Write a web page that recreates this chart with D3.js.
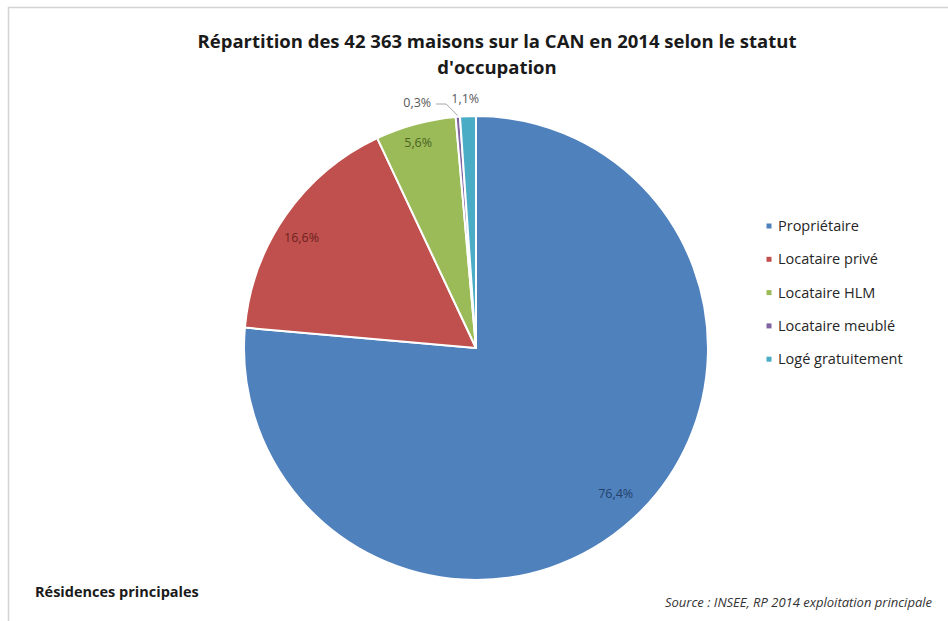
<!DOCTYPE html>
<html lang="fr">
<head>
<meta charset="utf-8">
<script src="https://cdn.jsdelivr.net/npm/d3@7"></script>
<style>
  html, body { margin: 0; padding: 0; background: #fff; }
  svg { display: block; font-family: "Open Sans", "DejaVu Sans", sans-serif; }
</style>
</head>
<body>
<svg id="chart" width="948" height="621"></svg>
<script>
// Statut d'occupation des résidences principales (maisons), CAN 2014
const categories = ["Propriétaire", "Locataire privé", "Locataire HLM", "Locataire meublé", "Logé gratuitement"];
const shares = [76.4, 16.6, 5.6, 0.3, 1.1];
const valueLabels = ["76,4%", "16,6%", "5,6%", "0,3%", "1,1%"];
const titleLines = ["Répartition des 42 363 maisons sur la CAN en 2014 selon le statut", "d'occupation"];

const palette = ["#4f81bd", "#c0504d", "#9bbb59", "#8064a2", "#4bacc6"];
const labelInk = ["#23416b", "#6b2220", "#4b6221", "#595959", "#595959"];

const W = 948, H = 621;
const svg = d3.select("#chart");

// chart frame (top and left edges)
svg.append("path")
  .attr("d", `M8.5,${H} V7.5 H${W}`)
  .attr("fill", "none")
  .attr("stroke", "#d4d4d4")
  .attr("stroke-width", 1.5);

// title
const title = svg.append("text")
  .attr("x", 497).attr("y", 48)
  .attr("text-anchor", "middle")
  .attr("font-size", 18.5)
  .attr("font-weight", 700)
  .attr("fill", "#1a1a1a");
titleLines.forEach((t, i) => title.append("tspan")
  .attr("x", 497).attr("dy", i === 0 ? 0 : 26).text(t));

// pie
const cx = 476, cy = 348, R = 232;
const pie = d3.pie().sort(null).value(d => d)(shares);
const arc = d3.arc().innerRadius(0).outerRadius(R);

const g = svg.append("g").attr("transform", `translate(${cx},${cy})`);
g.selectAll("path.slice")
  .data(pie)
  .join("path")
  .attr("class", "slice")
  .attr("d", arc)
  .attr("fill", (d, i) => palette[i])
  .attr("stroke", "#fff")
  .attr("stroke-width", 2)
  .attr("stroke-linejoin", "round");

// label placement: radius (fraction of R) and angular nudge (degrees)
const labelPlacement = [
  { r: 0.87, nudge: -1.3 },
  { r: 0.89, nudge: -2.6 },
  { r: 0.92, nudge: -0.6 },
  { r: 1.086, nudge: -9.0 },
  { r: 1.078, nudge: -0.5 }
];

const polar = (angle, rad) => [rad * Math.sin(angle), -rad * Math.cos(angle)];

pie.forEach((d, i) => {
  const p = labelPlacement[i];
  const mid = (d.startAngle + d.endAngle) / 2 + p.nudge * Math.PI / 180;
  const [x, y] = polar(mid, p.r * R);
  if (i === 3) {
    // leader line from the label to the thin slice
    const sliceMid = (d.startAngle + d.endAngle) / 2;
    const [ex, ey] = polar(sliceMid, R * 1.005);
    g.append("path")
      .attr("d", `M${x + 19},${y + 1} H${x + 29} L${ex},${ey}`)
      .attr("fill", "none")
      .attr("stroke", "#a6a6a6")
      .attr("stroke-width", 1);
  }
  g.append("text")
    .attr("x", x).attr("y", y)
    .attr("dy", "0.35em")
    .attr("text-anchor", "middle")
    .attr("font-size", 12.5)
    .attr("fill", labelInk[i])
    .text(valueLabels[i]);
});

// legend
const legend = svg.append("g").attr("transform", "translate(769,226)");
const items = legend.selectAll("g")
  .data(categories)
  .join("g")
  .attr("transform", (d, i) => `translate(0,${i * 33.3})`);
items.append("rect")
  .attr("x", -2.5).attr("y", -2.5)
  .attr("width", 5).attr("height", 5)
  .attr("fill", (d, i) => palette[i]);
items.append("text")
  .attr("x", 9).attr("dy", "0.35em")
  .attr("font-size", 14.5)
  .attr("fill", "#262626")
  .text(d => d);

// footer
svg.append("text")
  .attr("x", 35).attr("y", 597)
  .attr("font-size", 14.5)
  .attr("font-weight", 700)
  .attr("fill", "#1a1a1a")
  .text("Résidences principales");

svg.append("text")
  .attr("x", 932).attr("y", 607)
  .attr("text-anchor", "end")
  .attr("font-size", 13)
  .attr("font-style", "italic")
  .attr("fill", "#333")
  .text("Source : INSEE, RP 2014 exploitation principale");
</script>
</body>
</html>
